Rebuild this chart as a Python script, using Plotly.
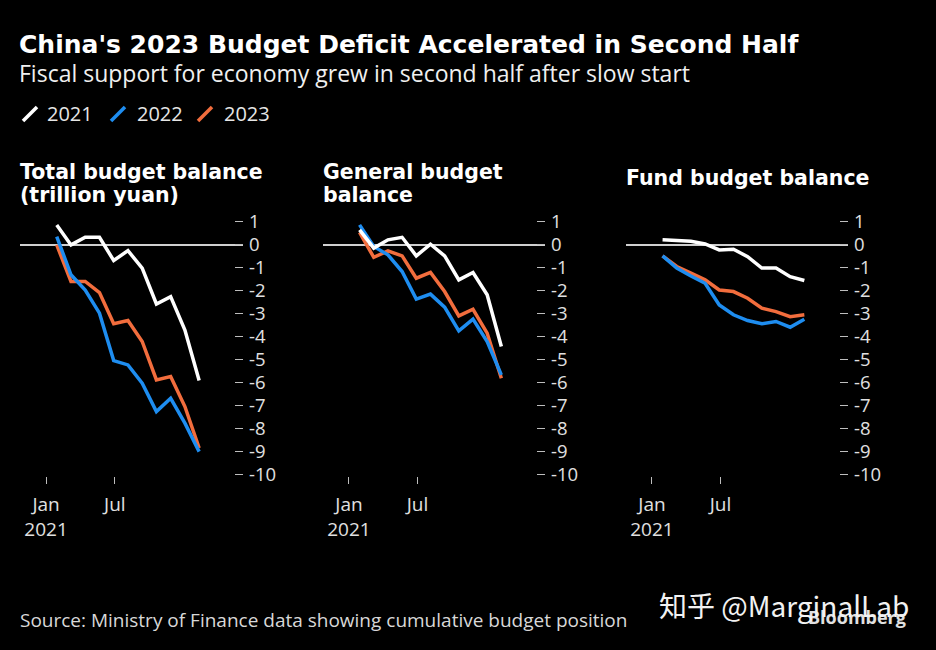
import plotly.graph_objects as go

W, H = 936, 650

months = [2, 3, 4, 5, 6, 7, 8, 9, 10, 11, 12]

total_2021 = [0.87, 0.00, 0.33, 0.33, -0.68, -0.25, -1.01, -2.57, -2.25, -3.70, -5.90]
total_2022 = [0.36, -1.30, -1.96, -2.97, -5.03, -5.22, -6.01, -7.25, -6.67, -7.75, -8.99]
total_2023 = [0.00, -1.59, -1.59, -2.07, -3.43, -3.29, -4.20, -5.87, -5.72, -7.03, -8.84]

general_2021 = [0.65, -0.14, 0.22, 0.33, -0.48, 0.03, -0.48, -1.52, -1.20, -2.17, -4.42]
general_2022 = [0.87, -0.07, -0.43, -1.16, -2.36, -2.14, -2.71, -3.74, -3.23, -4.20, -5.65]
general_2023 = [0.54, -0.54, -0.26, -0.48, -1.45, -1.20, -2.03, -3.09, -2.80, -3.84, -5.80]

fund_2021 = [0.22, 0.19, 0.16, 0.04, -0.22, -0.19, -0.51, -1.01, -1.01, -1.38, -1.55]
fund_2022 = [-0.48, -1.01, -1.35, -1.67, -2.61, -3.04, -3.29, -3.43, -3.33, -3.58, -3.23]
fund_2023 = [-0.48, -0.94, -1.23, -1.52, -1.96, -2.03, -2.32, -2.75, -2.90, -3.12, -3.04]

years = ["2021", "2022", "2023"]
colors = {"2021": "#ffffff", "2022": "#1e8df0", "2023": "#f26d3d"}

panel_titles = [["Total budget balance", "(trillion yuan)"],
                ["General budget", "balance"],
                ["Fund budget balance"]]
panels = [
    {"2021": total_2021, "2022": total_2022, "2023": total_2023},
    {"2021": general_2021, "2022": general_2022, "2023": general_2023},
    {"2021": fund_2021, "2022": fund_2022, "2023": fund_2023},
]

y_ticks = list(range(1, -11, -1))
y_ticktext = [str(v) for v in y_ticks]
x_tickvals = [1.25, 6.08]
x_ticktext = ["Jan<br>2021", "Jul"]

FONT = "Open Sans, Liberation Sans, sans-serif"
BOLD = "DejaVu Sans, sans-serif"


def px(x):
    return x / W


def py(y):
    return 1 - y / H


fig = go.Figure()

x_domains = [(20, 243), (323, 545), (626, 848)]
y_domain = [py(476), py(215)]

draw_order = ["2023", "2022", "2021"]
for i, data in enumerate(panels):
    suffix = "" if i == 0 else str(i + 1)
    for yr in draw_order:
        fig.add_trace(go.Scatter(
            x=months, y=data[yr], mode="lines",
            line=dict(color=colors[yr], width=3.5),
            xaxis="x" + suffix, yaxis="y" + suffix,
            showlegend=False, hoverinfo="skip"))
    xd = x_domains[i]
    fig.layout["xaxis" + suffix] = dict(
        domain=[px(xd[0]), px(xd[1])], range=[-0.58, 15.08],
        showgrid=False, zeroline=False, showline=False, automargin=False,
        tickvals=x_tickvals, ticktext=x_ticktext,
        ticks="outside", ticklen=7, tickwidth=1, tickcolor="#bdbdbd",
        ticklabelstandoff=4,
        tickfont=dict(family=FONT, size=19, color="#e0e0e0"),
        anchor="y" + suffix, fixedrange=True)
    fig.layout["yaxis" + suffix] = dict(
        domain=y_domain, range=[-10.05, 1.3], side="right",
        anchor="x" + suffix, automargin=False,
        showgrid=False, zeroline=True, zerolinecolor="#cfcfcf", zerolinewidth=2,
        showline=False,
        tickvals=y_ticks, ticktext=y_ticktext,
        ticks="inside", ticklen=8, tickwidth=1, tickcolor="#bdbdbd",
        ticklabelstandoff=5,
        tickfont=dict(family=FONT, size=18.5, color="#e0e0e0"),
        fixedrange=True)

annotations = []


def text(x, y, s, size, color="#ffffff", family=FONT, bold=False, anchor="left"):
    if bold:
        s = "<b>" + s + "</b>"
    annotations.append(dict(
        x=px(x), y=py(y), xref="paper", yref="paper", text=s, showarrow=False,
        xanchor=anchor, yanchor="middle",
        font=dict(size=size, color=color, family=family)))


text(17, 44, "China's 2023 Budget Deficit Accelerated in Second Half", 25, family=BOLD, bold=True)
text(17, 73, "Fiscal support for economy grew in second half after slow start", 23, color="#f0f0f0")

legend_x = [45, 135, 222]
for yr, lx in zip(years, legend_x):
    text(lx, 114, yr, 20, color="#e6e6e6")

title_x = [18, 321, 624]
for tx, lines in zip(title_x, panel_titles):
    if len(lines) == 2:
        text(tx, 172, lines[0], 20.5, family=BOLD, bold=True)
        text(tx, 195, lines[1], 20.5, family=BOLD, bold=True)
    else:
        text(tx, 178, lines[0], 20.5, family=BOLD, bold=True)

text(18, 620, "Source: Ministry of Finance data showing cumulative budget position", 19, color="#d8d8d8")
text(908, 617, "Bloomberg", 18, color="#e0e0e0", bold=True, anchor="right")
text(657, 605, "知乎 @MarginalLab", 28, color="#f2f2f2", family="Noto Sans CJK SC, sans-serif")

shapes = []
slash_x = [23, 111, 198]
for yr, sx in zip(years, slash_x):
    shapes.append(dict(type="line", xref="paper", yref="paper",
                       x0=px(sx), y0=py(121), x1=px(sx + 14), y1=py(107),
                       line=dict(color=colors[yr], width=3.5)))

fig.update_layout(
    template="none",
    width=W, height=H, autosize=False,
    margin=dict(l=0, r=0, t=0, b=0, pad=0, autoexpand=False),
    paper_bgcolor="#000000", plot_bgcolor="#000000",
    annotations=annotations, shapes=shapes,
    showlegend=False,
)

fig.write_html("out.html",
               config={"displayModeBar": False},
               post_script="document.body.style.margin='0';document.body.style.background='#000';")
